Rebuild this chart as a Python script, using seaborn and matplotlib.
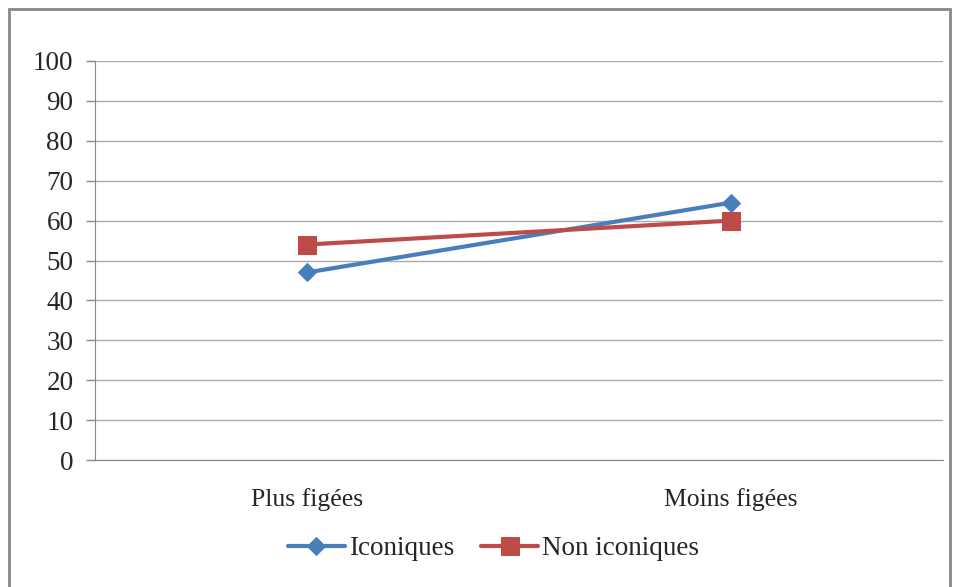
import pandas as pd
import matplotlib.pyplot as plt
import seaborn as sns
from matplotlib.patches import Rectangle

# Data
categories = ["Plus figées", "Moins figées"]
iconiques = [47, 64.5]
non_iconiques = [54, 60]
series_names = ["Iconiques", "Non iconiques"]

df = pd.DataFrame({
    "cat": categories * 2,
    "x": [0, 1] * 2,
    "val": iconiques + non_iconiques,
    "serie": [series_names[0]] * 2 + [series_names[1]] * 2,
})

sns.set_style("white")
plt.rcParams["font.family"] = ["Liberation Serif", "DejaVu Serif"]

fig = plt.figure(figsize=(9.55, 5.87), dpi=100)
ax = fig.add_axes([95 / 955, 1 - 460 / 587, (943 - 95) / 955, (460 - 61) / 587])

palette = {"Iconiques": "#4A7EBB", "Non iconiques": "#BE4B48"}
markers = {"Iconiques": "D", "Non iconiques": "s"}
sizes = {"Iconiques": 9, "Non iconiques": 13}

for name in series_names:
    sub = df[df["serie"] == name]
    sns.lineplot(data=sub, x="x", y="val", ax=ax, color=palette[name], lw=3,
                 marker=markers[name], markersize=sizes[name],
                 markeredgecolor=palette[name], label=name)

ax.set_xlim(-0.5, 1.5)
ax.set_ylim(0, 100)
ax.set_yticks(range(0, 101, 10))
ax.set_xticks([0, 1])
ax.set_xticklabels(categories)
ax.set_xticks([-0.5, 0.5, 1.5], minor=True)
ax.tick_params(axis="x", which="major", length=0, pad=20, labelsize=18.5)
ax.tick_params(axis="x", which="minor", length=6, color="#888888", width=1)
ax.tick_params(axis="y", length=6.5, color="#888888", width=1, labelsize=19.5, pad=9, left=True)
ax.yaxis.grid(True, color="#AAAAAA", lw=1)
ax.set_xlabel("")
ax.set_ylabel("")
for s in ["top", "right"]:
    ax.spines[s].set_visible(False)
ax.spines["left"].set_color("#888888")
ax.spines["bottom"].set_color("#888888")

leg = ax.legend(loc="center", bbox_to_anchor=(0.47, -0.222), ncol=2, frameon=False,
                fontsize=19.5, handlelength=2.1, columnspacing=1.0, handletextpad=0.15)

fig.patches.append(Rectangle((9 / 955, -0.01), 941 / 955, 1 - 9 / 587 + 0.01,
                             transform=fig.transFigure, fill=False,
                             edgecolor="#888888", lw=2))

fig.savefig("out.png", dpi=100)
